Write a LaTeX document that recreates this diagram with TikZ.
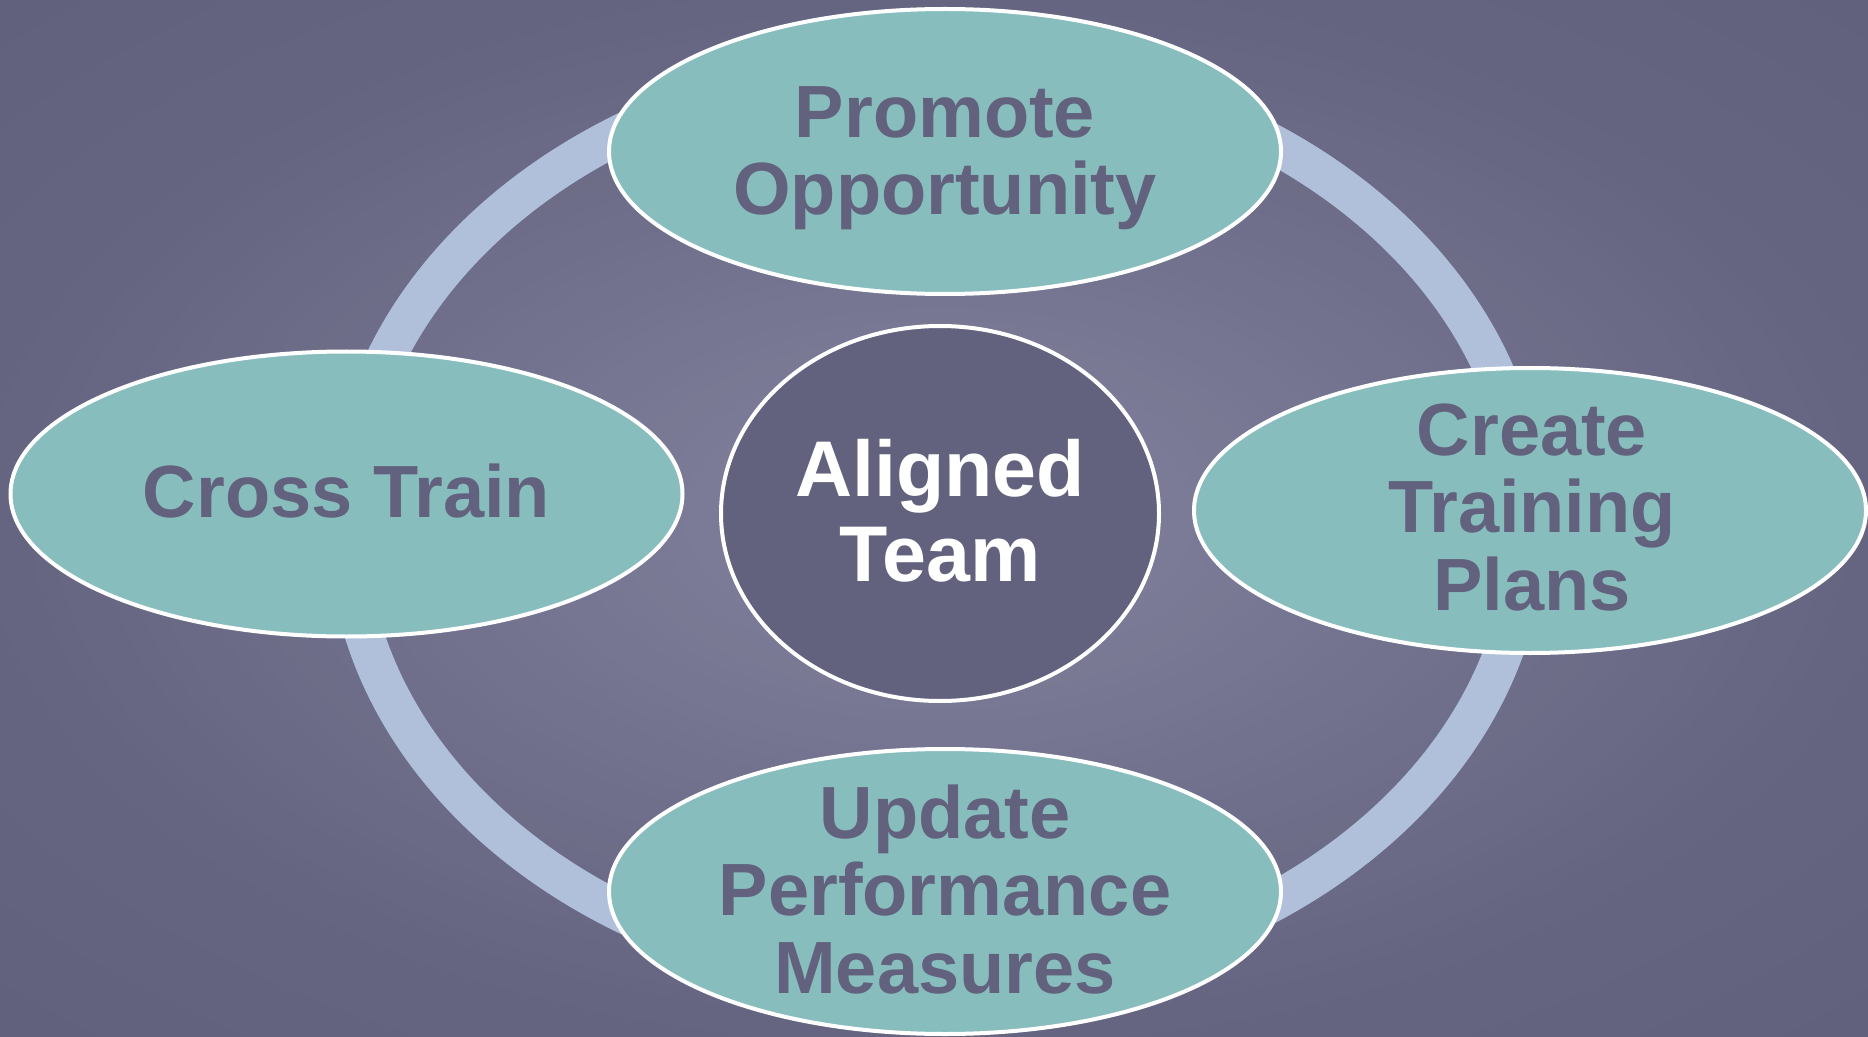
\documentclass[tikz,border=0pt]{standalone}
\usepackage{fontspec}
\setmainfont{Liberation Sans}
\usetikzlibrary{shapes.geometric}
\definecolor{bgout}{RGB}{97,97,124}
\definecolor{ringc}{RGB}{176,192,218}
\definecolor{tealc}{RGB}{136,189,190}
\definecolor{slate}{RGB}{98,98,126}
\begin{document}
\begin{tikzpicture}[x=0.5pt,y=-0.5pt,
  bubble/.style={ellipse, draw=white, line width=2pt, fill=tealc, inner sep=0pt,
                 minimum width=336pt, minimum height=142.5pt},
  bubtxt/.style={text=slate, font=\fontsize{37pt}{38.75pt}\selectfont\bfseries,
                 align=center, inner sep=0pt},
  hub/.style={ellipse, draw=white, line width=2pt, fill=slate, inner sep=0pt,
              minimum width=219pt, minimum height=187.5pt},
  hubtxt/.style={text=white, font=\fontsize{39.5pt}{42.5pt}\selectfont\bfseries,
                 align=center, inner sep=0pt},
  ringstyle/.style={ellipse, draw=ringc, line width=19.5pt, inner sep=0pt,
                    minimum width=590pt, minimum height=461pt}]
  % background: radial gradient built from concentric ellipses
  \useasboundingbox (0,0) rectangle (1868,1037);
  \fill[bgout] (0,0) rectangle (1868,1037);
  \begin{scope}
    \clip (0,0) rectangle (1868,1037);
    \foreach \i in {57,...,1}{
      \pgfmathsetmacro\rr{\i*0.025}
      \pgfmathsetmacro\gg{\rr<1.0001 ? 131-30*\rr : 101-4*(\rr-1)/0.425}
      \pgfmathsetmacro\cg{\gg/255}
      \pgfmathsetmacro\cb{(\gg+28)/255}
      \definecolor{bgtmp}{rgb}{\cg,\cg,\cb}
      \fill[bgtmp] (940,515) ellipse [x radius=\rr*467pt, y radius=\rr*259.25pt];
    }
  \end{scope}
  % cycle ring
  \node[ringstyle] (ring) at (937,523) {};
  % satellites
  \node[bubble] (po) at (945,151.5) {};
  \node[bubble] (ct) at (346.5,494) {};
  \node[bubble] (tp) at (1530,510.5) {};
  \node[bubble] (pm) at (945,891.5) {};
  % hub
  \node[hub] (at) at (940,513.5) {};
  % texts
  \node[bubtxt] (po-t) at (945,158) {Promote\\Opportunity};
  \node[bubtxt] (ct-t) at (346.5,491) {Cross Train};
  \node[bubtxt] (tp-t) at (1532,507.5) {Create\\Training\\Plans};
  \node[bubtxt] (pm-t) at (945,889.5) {Update\\Performance\\Measures};
  \node[hubtxt] (at-t) at (940,510.5) {Aligned\\Team};
\end{tikzpicture}
\end{document}
